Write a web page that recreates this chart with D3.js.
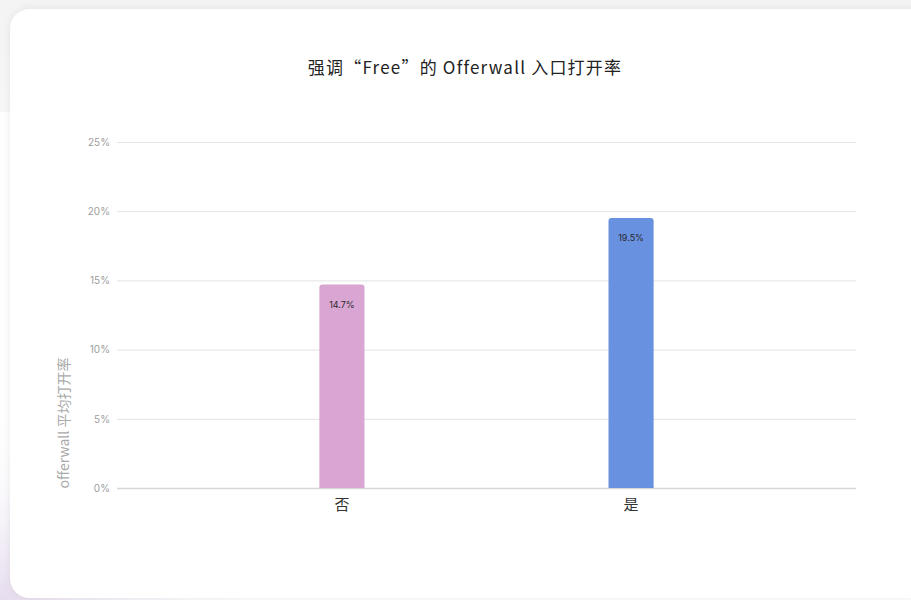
<!DOCTYPE html>
<html>
<head>
<meta charset="utf-8">
<script src="https://cdn.jsdelivr.net/npm/d3@7/dist/d3.min.js"></script>
<style>
  html, body { margin: 0; padding: 0; background: #ffffff; }
  svg { display: block; }
</style>
</head>
<body>
<svg id="chart" width="911" height="600"></svg>
<script>
// Chart data
const categories = ["否", "是"];
const openRates = [14.7, 19.5];
const barColors = ["#d9a5d3", "#6891e0"];
const yTicks = [0, 5, 10, 15, 20, 25];
const chartTitle = "强调“Free”的 Offerwall 入口打开率";
const yAxisTitle = "offerwall 平均打开率";

const svg = d3.select("#chart");
const W = 911, H = 600;
const fontStack = "Inter, 'Noto Sans CJK SC', 'Noto Sans', sans-serif";
const cjkStack = "'Noto Sans CJK SC', 'Noto Sans', sans-serif";

const defs = svg.append("defs");

// Soft lavender glow behind the lower-left of the card
const glow = defs.append("radialGradient")
  .attr("id", "glow").attr("cx", "0%").attr("cy", "100%").attr("r", "60%");
glow.append("stop").attr("offset", "0%").attr("stop-color", "#e6dcef");
glow.append("stop").attr("offset", "100%").attr("stop-color", "#ffffff").attr("stop-opacity", 0);

// Top fade behind the card
const topFade = defs.append("linearGradient")
  .attr("id", "topFade").attr("x1", 0).attr("y1", 0).attr("x2", 0).attr("y2", 1);
topFade.append("stop").attr("offset", "0%").attr("stop-color", "#f4f4f4");
topFade.append("stop").attr("offset", "100%").attr("stop-color", "#f8f8f8");

const shadow = defs.append("filter").attr("id", "shadow")
  .attr("x", "-5%").attr("y", "-5%").attr("width", "110%").attr("height", "110%");
shadow.append("feDropShadow").attr("dx", 0).attr("dy", 0)
  .attr("stdDeviation", 5).attr("flood-color", "#000").attr("flood-opacity", 0.08);

svg.append("rect").attr("width", W).attr("height", 112).attr("fill", "url(#topFade)");
svg.append("rect").attr("x", 0).attr("y", 112).attr("width", W).attr("height", H - 112).attr("fill", "#ffffff");
svg.append("rect").attr("x", 0).attr("y", 300).attr("width", 500).attr("height", 300).attr("fill", "url(#glow)");

// Card
svg.append("rect")
  .attr("x", 10).attr("y", 9).attr("width", 920).attr("height", 589)
  .attr("rx", 20).attr("ry", 20)
  .attr("fill", "#ffffff")
  .attr("filter", "url(#shadow)");

// Plot area
const plot = { left: 117, right: 856, top: 142, bottom: 488 };

const x = d3.scaleBand()
  .domain(categories)
  .range([plot.left, plot.right])
  .paddingInner(0.844)
  .paddingOuter(0.70);

const y = d3.scaleLinear()
  .domain([0, 25])
  .range([plot.bottom, plot.top]);

// Gridlines and tick labels
const yAxis = d3.axisLeft(y)
  .tickValues(yTicks)
  .tickSize(-(plot.right - plot.left))
  .tickPadding(7)
  .tickFormat(d => d + "%");

const gy = svg.append("g")
  .attr("transform", `translate(${plot.left},0)`)
  .call(yAxis);
gy.select(".domain").remove();
gy.selectAll(".tick line")
  .attr("stroke", d => d === 0 ? "#d6d6d6" : "#e3e3e3")
  .attr("stroke-width", d => d === 0 ? 1.5 : 1);
gy.selectAll(".tick text")
  .attr("fill", "#9d9d9d")
  .style("font-family", fontStack)
  .style("font-size", "10px");

// Bars with rounded tops
const rTop = 3;
function barPath(x0, w, yTop, yBase) {
  return `M${x0},${yBase}V${yTop + rTop}Q${x0},${yTop} ${x0 + rTop},${yTop}` +
         `H${x0 + w - rTop}Q${x0 + w},${yTop} ${x0 + w},${yTop + rTop}V${yBase}Z`;
}

svg.append("g").selectAll("path")
  .data(categories)
  .join("path")
  .attr("d", (c, i) => barPath(x(c), x.bandwidth(), y(openRates[i]), y(0)))
  .attr("fill", (c, i) => barColors[i]);

// Value labels inside bar tops
svg.append("g").selectAll("text")
  .data(categories)
  .join("text")
  .attr("x", c => x(c) + x.bandwidth() / 2)
  .attr("y", (c, i) => y(openRates[i]) + 23)
  .attr("text-anchor", "middle")
  .attr("fill", "#2a2a2a")
  .style("font-family", fontStack)
  .style("font-size", "9px")
  .text((c, i) => openRates[i] + "%");

// Category labels
const xAxis = d3.axisBottom(x).tickSize(0).tickPadding(11);
const gx = svg.append("g")
  .attr("transform", `translate(0,${plot.bottom})`)
  .call(xAxis);
gx.select(".domain").remove();
gx.selectAll(".tick text")
  .attr("fill", "#333333")
  .style("font-family", cjkStack)
  .style("font-size", "15px");

// Title
svg.append("text")
  .attr("x", 465).attr("y", 74)
  .attr("text-anchor", "middle")
  .attr("fill", "#222222")
  .style("font-family", cjkStack)
  .style("font-size", "17px")
  .style("letter-spacing", "1.2px")
  .text(chartTitle);

// Y-axis title
svg.append("text")
  .attr("transform", "translate(69,423) rotate(-90)")
  .attr("text-anchor", "middle")
  .attr("fill", "#aaaaaa")
  .style("font-family", cjkStack)
  .style("font-size", "14px")
  .text(yAxisTitle);
</script>
</body>
</html>
